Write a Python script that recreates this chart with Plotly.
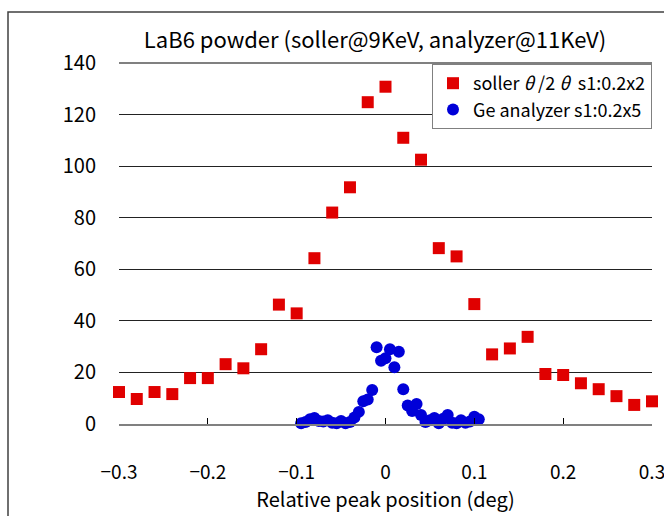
import plotly.graph_objects as go

# Soller (theta/2theta) data
soller_x = [-0.30, -0.28, -0.26, -0.24, -0.22, -0.20, -0.18, -0.16, -0.14, -0.12,
            -0.10, -0.08, -0.06, -0.04, -0.02, 0.00, 0.02, 0.04, 0.06, 0.08,
            0.10, 0.12, 0.14, 0.16, 0.18, 0.20, 0.22, 0.24, 0.26, 0.28, 0.30]
soller_y = [12.4, 9.7, 12.4, 11.6, 17.8, 17.8, 23.2, 21.6, 29.0, 46.3,
            42.9, 64.3, 82.0, 91.8, 124.8, 130.8, 111.0, 102.5, 68.2, 65.0,
            46.5, 27.0, 29.3, 33.8, 19.4, 19.0, 15.8, 13.5, 10.8, 7.4, 8.8]

# Ge analyzer data
ge_x = [-0.095, -0.090, -0.085, -0.080, -0.075, -0.070, -0.065, -0.060, -0.055, -0.050,
        -0.045, -0.040, -0.035, -0.030, -0.025, -0.020, -0.015, -0.010, -0.005, 0.000,
        0.005, 0.010, 0.015, 0.020, 0.025, 0.030, 0.035, 0.040, 0.045, 0.050,
        0.055, 0.060, 0.065, 0.070, 0.075, 0.080, 0.085, 0.090, 0.095, 0.100, 0.105]
ge_y = [0.3, 0.8, 1.8, 2.3, 1.2, 1.0, 1.5, 0.5, 0.3, 1.2,
        0.3, 0.8, 2.5, 4.7, 8.8, 9.5, 13.2, 29.8, 24.5, 25.5,
        29.0, 22.0, 28.0, 13.5, 7.2, 5.0, 7.8, 3.5, 0.8, 1.5,
        2.3, 0.3, 2.0, 3.5, 0.5, 0.3, 1.5, 0.5, 1.0, 2.8, 1.8]

title_text = "LaB6 powder (soller@9KeV, analyzer@11KeV)"
x_title = "Relative peak position (deg)"
x_ticks = [-0.3, -0.2, -0.1, 0, 0.1, 0.2, 0.3]
y_ticks = [0, 20, 40, 60, 80, 100, 120, 140]

FONT = "Noto Sans CJK JP"

fig = go.Figure()
fig.add_trace(go.Scatter(
    x=soller_x, y=soller_y, mode="markers", name="soller <i>θ</i> /2 <i>θ</i>  s1:0.2x2",
    marker=dict(symbol="square", size=12, color="#e00000"), cliponaxis=False))
fig.add_trace(go.Scatter(
    x=ge_x, y=ge_y, mode="markers", name="Ge analyzer s1:0.2x5",
    marker=dict(symbol="circle", size=12, color="#0000d8"), cliponaxis=False))

W, H = 664, 516
L, R, T, B = 119, 12, 63, 92
pw, ph = W - L - R, H - T - B

def px(xp):
    return (xp - L) / pw

def py(yp):
    return (H - B - yp) / ph

fig.update_layout(
    width=W, height=H,
    margin=dict(l=L, r=R, t=T, b=B, autoexpand=False),
    paper_bgcolor="white", plot_bgcolor="white",
    font=dict(family=FONT, size=20, color="black"),
    title=dict(text=title_text, xref="container", x=375 / W, xanchor="center",
               yref="container", y=1 - 40 / H, yanchor="middle",
               font=dict(family=FONT, size=22)),
    showlegend=True,
    legend=dict(x=px(432), y=py(64), xanchor="left", yanchor="top",
                bgcolor="white", bordercolor="#808080", borderwidth=1,
                font=dict(family=FONT, size=18), itemwidth=30, tracegroupgap=0),
    xaxis=dict(range=[-0.3, 0.3], tickvals=x_ticks, ticktext=[("−" if v < 0 else "") + (f"{abs(v):g}") for v in x_ticks],
               showgrid=False, zeroline=False, showline=True, linecolor="#808080", linewidth=2,
               ticks="inside", ticklen=6, tickcolor="#000000", tickwidth=1,
               ticklabeloverflow="allow",
               title=dict(text=x_title, font=dict(family=FONT, size=20), standoff=5),
               tickfont=dict(family=FONT, size=19), ticklabelstandoff=30),
    yaxis=dict(range=[0, 140], tickvals=y_ticks, showgrid=True, gridcolor="#222222", gridwidth=1,
               zeroline=False, showline=False, ticks="",
               tickfont=dict(family=FONT, size=20), ticklabelstandoff=22),
    shapes=[
        dict(type="rect", xref="paper", yref="paper", x0=px(8), x1=1.2, y0=-0.5, y1=py(12),
             line=dict(color="#404040", width=1.5), fillcolor="rgba(0,0,0,0)", layer="below"),
        dict(type="line", xref="paper", yref="paper", x0=0, x1=1, y0=1, y1=1,
             line=dict(color="#808080", width=2), layer="below"),
    ],
)

fig.write_html("out.html")
